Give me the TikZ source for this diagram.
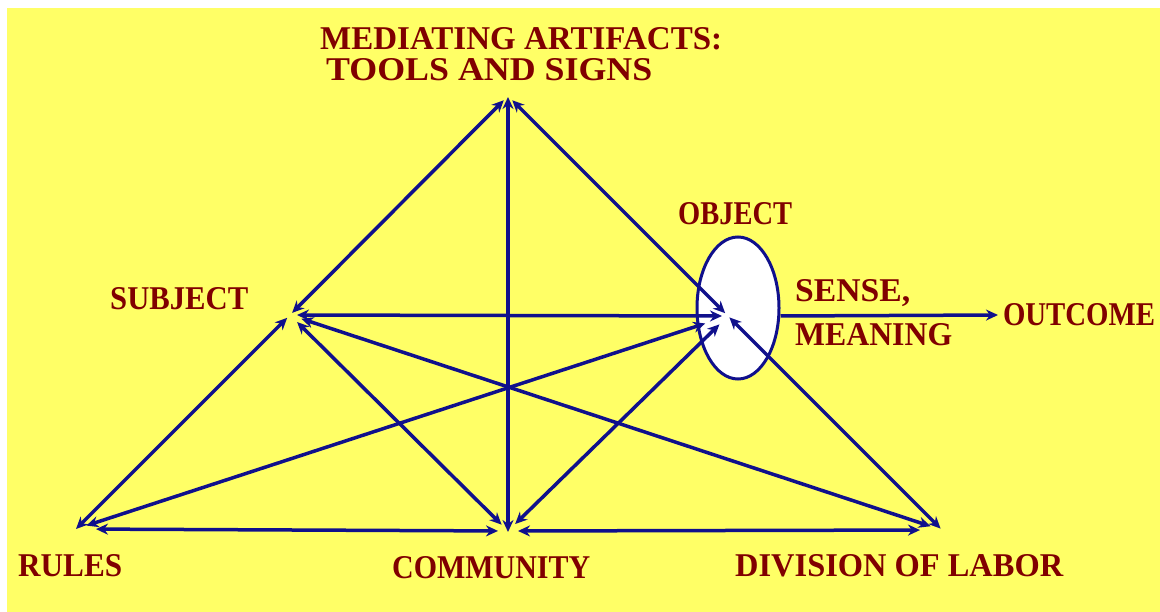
\documentclass[tikz,border=0pt]{standalone}
\usepackage{fontspec}
\setmainfont{Liberation Serif}
\usetikzlibrary{arrows.meta,shapes.geometric}
\definecolor{bg}{HTML}{FFFF66}
\definecolor{ln}{RGB}{16,16,140}
\definecolor{tx}{HTML}{800000}
\newcommand{\lbl}[2]{\resizebox{#1pt}{22pt}{\bfseries #2}}
\begin{document}
\begin{tikzpicture}[x=1pt,y=-1pt,
  tip/.tip={Stealth[length=12pt,width=11pt]},
  conn/.style={draw=ln,line width=3.5pt,tip-tip},
  oneway/.style={draw=ln,line width=3.5pt,-tip},
  lab/.style={text=tx,inner sep=0pt,anchor=base west},
  ]
\useasboundingbox (0,0) rectangle (1160,612);
\fill[white] (0,0) rectangle (1160,612);
\fill[bg] (7,8) rectangle (1160,612);

% vertices
\coordinate (T) at (508,96);
\coordinate (S) at (290,315);
\coordinate (O) at (728,316);
\coordinate (R) at (76,529);
\coordinate (C) at (508,531);
\coordinate (D) at (942,530);

% object ellipse
\node[ellipse,draw=ln,fill=white,line width=3pt,minimum width=82pt,minimum height=142pt,inner sep=0pt] (obj) at (738,308) {};

% labels
\node[lab] (med) at (320,50) {\lbl{402}{MEDIATING ARTIFACTS:}};
\node[lab] (tools) at (326,81) {\lbl{326}{TOOLS AND SIGNS}};
\node[lab] (lobj) at (678,225) {\lbl{114}{OBJECT}};
\node[lab] (lsub) at (110,310) {\lbl{138}{SUBJECT}};
\node[lab] (sense) at (795,302) {\lbl{115}{SENSE,}};
\node[lab] (meaning) at (795,346) {\lbl{157}{MEANING}};
\node[lab,anchor=west,outer sep=5pt] (out) at (998,315) {\lbl{152}{OUTCOME}};
\node[lab] (rules) at (18,576) {\lbl{104}{RULES}};
\node[lab] (comm) at (392,578) {\lbl{198}{COMMUNITY}};
\node[lab] (div) at (735,576) {\lbl{328}{DIVISION OF LABOR}};

% connectors
\draw[conn,shorten <=3pt,shorten >=6pt] (S) -- (T);
\draw[conn,shorten <=4pt,shorten >=6pt] (O) -- (T);
\draw[conn,shorten <=-1pt,shorten >=1pt] (C) -- (T);
\draw[conn,shorten <=0pt,shorten >=4pt] (R) -- (S);
\draw[conn,shorten <=20pt,shorten >=10pt] (R) -- (C);
\draw[conn,shorten <=11pt,shorten >=24pt] (R) -- (O);
\draw[conn,shorten <=7pt,shorten >=6pt] (S) -- (O);
\draw[conn,shorten <=10pt,shorten >=9pt] (S) -- (C);
\draw[conn,shorten <=12pt,shorten >=12pt] (S) -- (D);
\draw[conn,shorten <=12pt,shorten >=10pt] (O) -- (C);
\draw[conn,shorten <=2pt,shorten >=2pt] (O) -- (D);
\draw[conn,shorten <=10pt,shorten >=22pt] (C) -- (D);
\draw[oneway] (obj.east |- O) -- (out.west);
\end{tikzpicture}
\end{document}
